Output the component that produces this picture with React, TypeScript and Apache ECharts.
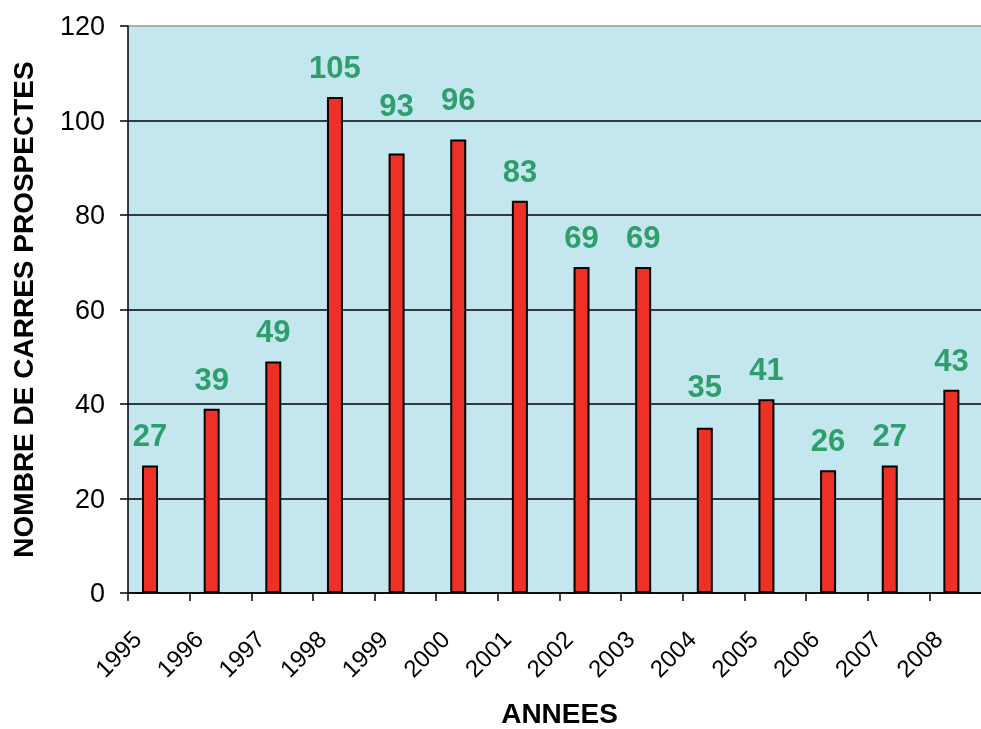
import React, { useEffect, useRef } from "react";
import * as echarts from "echarts";

const years = ["1995", "1996", "1997", "1998", "1999", "2000", "2001", "2002", "2003", "2004", "2005", "2006", "2007", "2008"];
const squares = [27, 39, 49, 105, 93, 96, 83, 69, 69, 35, 41, 26, 27, 43];
const yTicks = { min: 0, max: 120, interval: 20 };
// extra upward shift of some data labels (as placed in the reference)
const labelLift: Record<string, number> = { "1999": 19, "2000": 10, "2004": 12 };

const FONT = "'Liberation Sans', Arial, sans-serif";

export default function App() {
  const ref = useRef<HTMLDivElement>(null);
  useEffect(() => {
    if (!ref.current) return;
    const chart = echarts.init(ref.current, undefined, { renderer: "svg" });
    chart.setOption({
      animation: false,
      textStyle: { fontFamily: FONT },
      grid: {
        left: 128,
        right: -10,
        top: 26,
        bottom: 136,
        show: true,
        backgroundColor: "#C4E7EF",
        borderWidth: 0,
        outerBoundsMode: "none",
      },
      xAxis: {
        type: "category",
        data: years,
        boundaryGap: true,
        name: "ANNEES",
        nameLocation: "middle",
        nameGap: 106,
        nameTextStyle: { fontFamily: FONT, fontSize: 28, fontWeight: "bold", color: "#000" },
        axisLine: { show: true, lineStyle: { color: "#000", width: 1.5 } },
        axisTick: { show: true, interval: 0, alignWithLabel: false, length: 8, lineStyle: { color: "#000", width: 1.5 } },
        axisLabel: {
          interval: 0,
          rotate: 45,
          margin: 20,
          padding: [0, 31, 0, 0],
          fontFamily: FONT,
          fontSize: 24,
          color: "#000",
        },
        splitLine: { show: false },
      },
      yAxis: {
        type: "value",
        min: yTicks.min,
        max: yTicks.max,
        interval: yTicks.interval,
        name: "NOMBRE DE CARRES PROSPECTES",
        nameLocation: "middle",
        nameGap: 91,
        nameRotate: 90,
        nameTextStyle: { fontFamily: FONT, fontSize: 28, fontWeight: "bold", color: "#000" },
        axisLine: { show: true, lineStyle: { color: "#000", width: 1.5 } },
        axisTick: { show: true, length: 8, lineStyle: { color: "#000", width: 1.5 } },
        axisLabel: { margin: 23, fontFamily: FONT, fontSize: 27, color: "#000" },
        splitLine: {
          show: true,
          lineStyle: { color: ["#000", "#000", "#000", "#000", "#000", "#000", "#999"], width: 1.5 },
        },
      },
      series: [
        {
          type: "bar",
          barWidth: 16,
          barGap: "10%",
          itemStyle: { color: "#EE3127", borderColor: "#000", borderWidth: 2 },
          data: squares.map((v, i) => ({
            value: v,
            label: { offset: [0, -(labelLift[years[i]] || 0)] },
          })),
          label: {
            show: true,
            position: "top",
            distance: 14,
            fontFamily: FONT,
            fontSize: 31,
            fontWeight: "bold",
            color: "#2E9E6C",
          },
        },
        {
          type: "bar",
          barWidth: 16,
          barGap: "10%",
          data: years.map(() => null),
        },
      ],
    });
    return () => chart.dispose();
  }, []);
  return <div ref={ref} style={{ position: "fixed", left: 0, top: 0, width: 981, height: 729 }} />;
}
